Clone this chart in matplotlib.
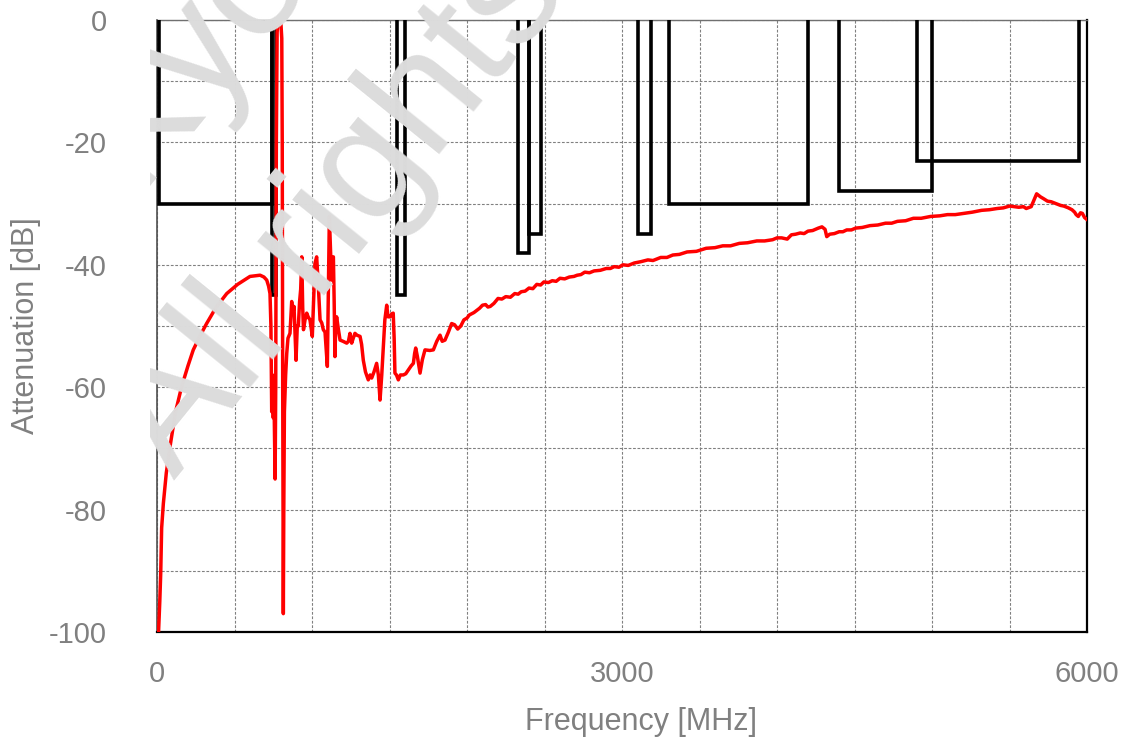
import matplotlib
matplotlib.use("Agg")
import matplotlib.pyplot as plt
from matplotlib.transforms import Bbox, TransformedBbox

freq_low = [10, 18, 24, 30, 41, 60, 84, 120, 159, 200, 234, 280, 320, 380,
            450, 520, 600, 665, 690, 708, 720, 729, 735, 740, 745, 750, 755,
            762, 766, 770, 775, 780, 790, 800, 805, 808, 811, 815, 818, 822,
            830, 837, 845, 858, 869, 876, 884, 892, 897, 905, 912, 920, 927,
            934, 940, 945, 955, 966, 975, 987, 1002, 1010, 1019, 1030, 1040,
            1052, 1063, 1073, 1084, 1092, 1099, 1105, 1112, 1120, 1127, 1133,
            1138, 1143, 1148, 1153, 1159, 1170, 1181, 1200, 1224, 1235, 1245,
            1256, 1266, 1277, 1290, 1310, 1320, 1331, 1345, 1363, 1375, 1385,
            1400, 1417, 1428, 1439, 1450, 1460, 1470, 1482, 1490, 1503, 1515,
            1524, 1530, 1535, 1545, 1557, 1570, 1589, 1605, 1621, 1640, 1654,
            1662, 1669, 1680, 1697, 1712, 1729, 1760, 1783, 1805, 1826, 1840,
            1858]
atten_low = [-100, -95, -90.4, -83, -79, -74, -69.7, -64, -59.9, -56.5,
             -53.9, -51.5, -49.6, -47, -44.7, -43.2, -41.9, -41.7, -42, -42.5,
             -43.5, -44.7, -50, -64, -58, -65, -62, -75, -60, -20, -2, -0.6,
             -0.3, -0.8, -3, -20, -60, -97, -80, -64, -58, -54.5, -52, -51.2,
             -46, -48, -46.8, -52, -55.6, -50, -50, -46, -44, -38.7, -47,
             -50.6, -49, -47.9, -48.5, -49, -51.7, -46, -39.8, -38.7, -43,
             -49, -49.5, -50.6, -51, -54, -56.6, -45, -32.1, -38, -42.5, -39,
             -38.7, -46, -55, -50, -48.5, -50.5, -52.3, -52.5, -52.8, -52.5,
             -51.2, -52.8, -52, -51.2, -51.5, -51.7, -53, -55.6, -57.5, -58.8,
             -58, -58.5, -57.5, -56.1, -58, -62.1, -58, -53.4, -49, -46.6,
             -48.5, -48.5, -48, -47.9, -52, -57.7, -58, -58.8, -58, -58,
             -57.8, -57.2, -56.5, -56.1, -54.5, -53.6, -55, -57.7, -55.5,
             -53.9, -54, -53.9, -52.5, -51.5, -52.5, -52.3]
freq_high = [1880, 1901, 1920, 1940, 1960, 1980, 2000, 2015, 2030, 2045,
             2060, 2081, 2100, 2120, 2135, 2150, 2174, 2200, 2225, 2250,
             2280, 2308, 2330, 2350, 2375, 2400, 2425, 2450, 2475, 2496,
             2525, 2550, 2575, 2600, 2630, 2660, 2690, 2711, 2735, 2760,
             2790, 2820, 2860, 2899, 2925, 2950, 2980, 3006, 3040, 3080,
             3120, 3167, 3200, 3250, 3290, 3328, 3370, 3420, 3480, 3543,
             3600, 3650, 3700, 3757, 3810, 3870, 3920, 3972, 4000, 4030,
             4066, 4093, 4120, 4150, 4175, 4200, 4230, 4267, 4290, 4310,
             4321, 4340, 4370, 4401, 4425, 4450, 4480, 4508, 4550, 4600,
             4650, 4700, 4740, 4777, 4830, 4880, 4930, 4991, 5050, 5100,
             5150, 5206, 5260, 5320, 5370, 5421, 5460, 5501, 5530, 5560,
             5590, 5608, 5640, 5660, 5675, 5700, 5720, 5745, 5769, 5790,
             5810, 5830, 5850, 5880, 5903, 5920, 5930, 5944, 5958, 5970,
             5985, 6000]
atten_high = [-51, -49.6, -49.8, -50.5, -50, -49, -48.7, -48.2, -48, -47.8,
              -47.5, -47.1, -46.6, -46.5, -46.9, -46.8, -46.3, -45.5, -45.6, -45.2,
              -45.3, -44.7, -44.8, -44.4, -44.3, -43.8, -43.9, -43.2, -43.3, -42.8,
              -42.9, -42.6, -42.7, -42.2, -42.3, -42.0, -41.9, -41.7, -41.6, -41.2,
              -41.3, -41, -40.9, -40.6, -40.6, -40.3, -40.4, -40, -40.1, -39.7,
              -39.5, -39.2, -39.3, -38.8, -38.8, -38.4, -38.3, -37.9, -37.8, -37.3,
              -37.2, -36.9, -36.9, -36.5, -36.4, -36.1, -36.1, -35.9, -35.6, -35.6,
              -35.8, -35.1, -35.0, -34.8, -34.9, -34.5, -34.4, -34, -33.8, -34.2,
              -35.4, -35, -34.9, -34.6, -34.6, -34.3, -34.3, -34, -33.9, -33.6,
              -33.5, -33.2, -33.2, -32.9, -32.8, -32.4, -32.4, -32.1, -32.0, -31.8,
              -31.8, -31.6, -31.4, -31.1, -31.0, -30.8, -30.7, -30.4, -30.5, -30.6,
              -30.5, -30.8, -30.5, -29.3, -28.4, -28.9, -29.2, -29.6, -29.7, -29.9,
              -30.1, -30.3, -30.4, -30.7, -31, -31.4, -31.8, -32.1, -31.5, -31.6,
              -32.3, -32.6]

# spec mask bands: start, stop, required level
mask_lo = [10, 740, 1550, 2330, 2400, 3100, 3300, 4400, 4900]
mask_hi = [740, 765, 1600, 2400, 2480, 3190, 4200, 5000, 5950]
mask_db = [-30, -45, -45, -38, -35, -35, -30, -28, -23]

x_ticks = [0, 3000, 6000]
y_ticks = [-100, -80, -60, -40, -20, 0]

plt.rcParams['font.family'] = ['Liberation Sans', 'DejaVu Sans']
plt.rcParams['axes.unicode_minus'] = False
grey = '#808080'

fig = plt.figure(figsize=(11.33, 7.42), dpi=100)
ax = fig.add_axes([157 / 1133, 110 / 742, 930 / 1133, 612 / 742])

# faint watermark behind everything, cut off left of the plot
wm_clip = TransformedBbox(Bbox([[150 / 1133, 0], [1, 1]]), fig.transFigure)
for txt, x0, y0 in [("Kyocera", 0.118, 0.745), ("All rights", 0.154, 0.352)]:
    t = fig.text(x0, y0, txt, rotation=51, fontsize=118, color='#dcdcdc',
                 rotation_mode='anchor', ha='left', va='baseline', zorder=0)
    t.set_clip_box(wm_clip)
    t.set_clip_on(True)
ax.patch.set_alpha(0)

ax.set_xlim(0, 6000)
ax.set_ylim(-100, 0)
ax.set_xticks(range(0, 6001, 500), minor=True)
ax.set_yticks(range(-100, 1, 10), minor=True)
ax.set_xticks(x_ticks)
ax.set_yticks(y_ticks)
ax.grid(True, which='both', color=grey, linestyle=(0, (2.5, 1.5)),
        linewidth=0.8)
ax.tick_params(which='both', length=0)
ax.tick_params(axis='x', pad=20, labelsize=21, labelcolor=grey)
ax.tick_params(axis='y', pad=36, labelsize=21, labelcolor=grey)

for lo, hi, db in zip(mask_lo, mask_hi, mask_db):
    ax.plot([lo, lo, hi, hi], [0, db, db, 0], color='black', lw=2.6,
            solid_joinstyle='miter', zorder=3)

ax.plot(freq_low + freq_high, atten_low + atten_high, color='#ff0000',
        lw=2.5, zorder=4)

ax.spines['top'].set_color('#707070')
ax.spines['top'].set_linewidth(1.0)
ax.spines['left'].set_color('#505050')
ax.spines['left'].set_linewidth(1.2)
for side in ['bottom', 'right']:
    ax.spines[side].set_color('black')
    ax.spines[side].set_linewidth(1.6)

ax.set_xlabel("Frequency [MHz]", fontsize=22, color=grey)
ax.set_ylabel("Attenuation [dB]", fontsize=22, color=grey)
ax.xaxis.set_label_coords(0.52, -0.122)
ax.yaxis.set_label_coords(-0.125, 0.5)

fig.savefig("out.png", dpi=100)
